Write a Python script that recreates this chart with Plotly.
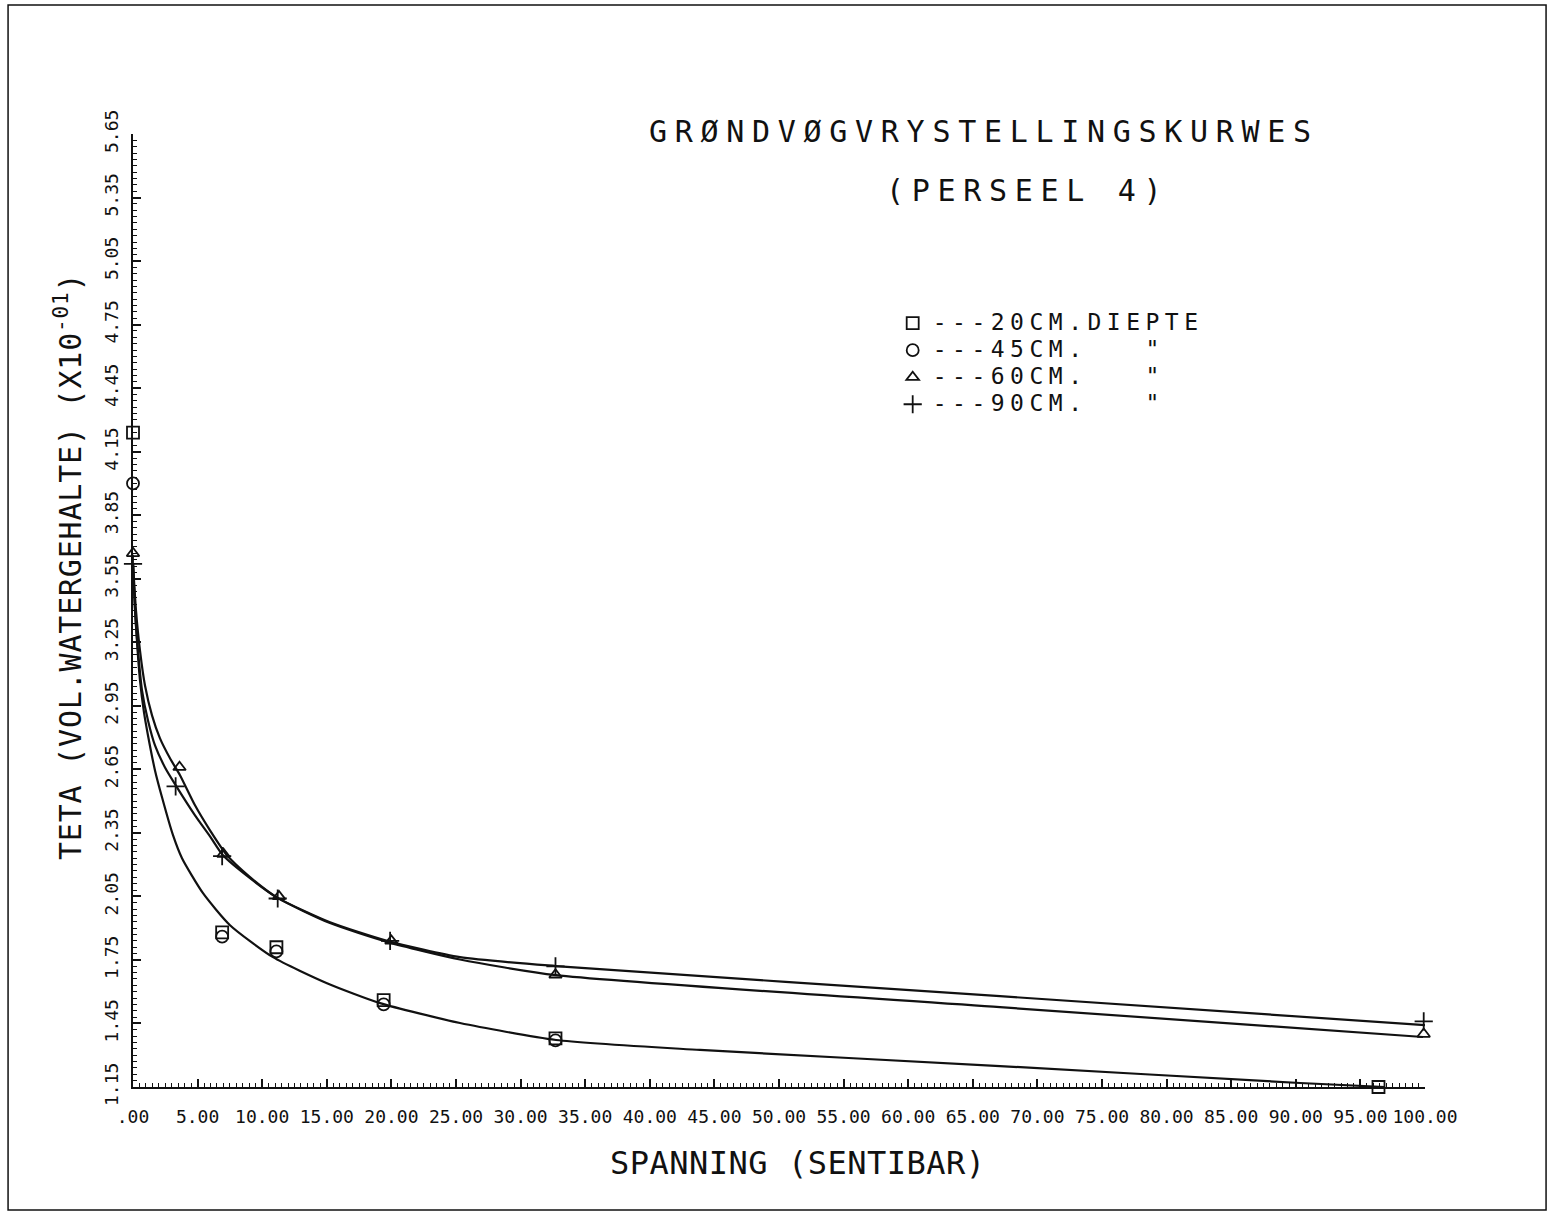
import plotly.graph_objects as go

# ---- measured points (spanning in sentibar, teta x10^-1) ----
x_20cm = [0.0, 6.9, 11.1, 19.4, 32.7, 96.4]
y_20cm = [4.24, 1.88, 1.81, 1.56, 1.38, 1.15]

x_45cm = [0.0, 6.9, 11.1, 19.4, 32.7, 96.4]
y_45cm = [4.00, 1.86, 1.79, 1.54, 1.37, 1.14]

x_60cm = [0.0, 3.6, 7.0, 11.3, 20.0, 32.7, 99.9]
y_60cm = [3.67, 2.66, 2.25, 2.05, 1.84, 1.68, 1.40]

x_90cm = [0.0, 3.3, 6.9, 11.2, 19.9, 32.7, 99.9]
y_90cm = [3.62, 2.57, 2.24, 2.04, 1.84, 1.72, 1.46]

# ---- fitted retention curves ----
fit_x_shallow = [0.0, 0.232, 0.542, 0.851, 1.161, 1.703, 2.245, 3.096, 3.793,
                 5.418, 7.508, 10.836, 15.015, 19.118, 25.31, 32.74, 43.885,
                 67.105, 90.325, 96.904]
fit_y_shallow = [3.622, 3.329, 3.070, 2.919, 2.810, 2.645, 2.518, 2.339, 2.230,
                 2.065, 1.914, 1.763, 1.640, 1.546, 1.452, 1.372, 1.325,
                 1.249, 1.169, 1.150]

fit_x_60 = [0.0, 0.232, 0.542, 0.929, 1.471, 2.090, 2.864, 3.638, 4.799, 5.960,
            7.276, 9.056, 11.223, 15.248, 19.737, 25.31, 32.74, 67.105, 99.845]
fit_y_60 = [3.622, 3.400, 3.211, 3.046, 2.905, 2.796, 2.702, 2.622, 2.480, 2.362,
            2.244, 2.141, 2.042, 1.924, 1.834, 1.752, 1.678, 1.527, 1.386]

fit_x_90 = [0.0, 0.155, 0.387, 0.697, 1.161, 1.703, 2.477, 3.406, 4.799, 5.960,
            6.966, 9.056, 11.223, 15.248, 19.737, 25.31, 32.74, 67.105, 100.0]
fit_y_90 = [3.622, 3.400, 3.211, 3.023, 2.881, 2.763, 2.659, 2.565, 2.433, 2.334,
            2.244, 2.136, 2.042, 1.928, 1.839, 1.763, 1.721, 1.579, 1.442]

# ---- axis ticks ----
x_tickvals = [i * 5 for i in range(21)]
x_ticktext = [".00"] + ["%.2f" % v for v in x_tickvals[1:]]
y_tickvals = [round(1.15 + 0.3 * i, 2) for i in range(16)]
y_ticktext = ["%.2f" % v for v in y_tickvals]

legend_names = [
    "---20CM.DIEPTE",
    "---45CM.\u00a0\u00a0\u00a0\"",
    "---60CM.\u00a0\u00a0\u00a0\"",
    "---90CM.\u00a0\u00a0\u00a0\"",
]

FONT = "DejaVu Sans Mono"
INK = "#111111"

def spaced(text, px, size=None):
    style = "letter-spacing:%spx" % px
    if size:
        style += ";font-size:%spx" % size
    return '<span style="%s">%s</span>' % (style, text)

fig = go.Figure()

for fx, fy in [(fit_x_shallow, fit_y_shallow), (fit_x_60, fit_y_60), (fit_x_90, fit_y_90)]:
    fig.add_trace(go.Scatter(
        x=fx, y=fy, mode="lines", showlegend=False, hoverinfo="skip",
        line=dict(color=INK, width=2.2, shape="spline", smoothing=0.6),
    ))

series = [
    (x_20cm, y_20cm, "square-open", 12),
    (x_45cm, y_45cm, "circle-open", 12),
    (x_60cm, y_60cm, "triangle-up-open", 11),
    (x_90cm, y_90cm, "cross-thin-open", 13),
]
for (sx, sy, sym, size), name in zip(series, legend_names):
    fig.add_trace(go.Scatter(
        x=sx, y=sy, mode="markers", name=spaced(name, 5.5, 23),
        cliponaxis=False,
        marker=dict(symbol=sym, size=size, color=INK, line=dict(color=INK, width=1.8)),
    ))

axis_common = dict(
    showline=True, linecolor=INK, linewidth=2, mirror=False,
    showgrid=False, zeroline=False,
    ticks="inside", ticklen=8, tickwidth=1.5, tickcolor=INK,
    tickfont=dict(family=FONT, size=18, color=INK),
)

fig.update_xaxes(
    range=[0, 100], tickmode="array", tickvals=x_tickvals, ticktext=x_ticktext,
    tickangle=0, ticklabelstandoff=12,
    minor=dict(tickmode="linear", tick0=0, dtick=0.5, ticks="inside",
               ticklen=4, tickwidth=1.2, tickcolor=INK),
    **axis_common,
)
fig.update_yaxes(
    range=[1.15, 5.65], tickmode="array", tickvals=y_tickvals, ticktext=y_ticktext,
    tickangle=-90, ticklabelstandoff=6,
    minor=dict(tickmode="linear", tick0=1.15, dtick=0.03, ticks="inside",
               ticklen=4, tickwidth=1.2, tickcolor=INK),
    **axis_common,
)

annotations = [
    dict(text=spaced("GRØNDVØGVRYSTELLINGSKURWES", 7.7), x=0.6587, y=1.0031,
         font=dict(family=FONT, size=30, color=INK)),
    dict(text=spaced("(PERSEEL 4)", 7.7), x=0.692, y=0.9412,
         font=dict(family=FONT, size=30, color=INK)),
    dict(text=spaced("SPANNING (SENTIBAR)", 0.5), x=0.5147, y=-0.0797,
         font=dict(family=FONT, size=32, color=INK)),
    dict(text=spaced("TETA (VOL.WATERGEHALTE) (X10<sup>-01</sup>)", 0.8),
         x=-0.0503, y=0.5456, textangle=-90,
         font=dict(family=FONT, size=30, color=INK)),
]
for a in annotations:
    a.update(xref="paper", yref="paper", xanchor="center", yanchor="middle",
             showarrow=False)

fig.update_layout(
    width=1552, height=1215,
    margin=dict(l=133, r=127, t=134, b=128),
    paper_bgcolor="white", plot_bgcolor="white",
    annotations=annotations,
    showlegend=True,
    legend=dict(
        x=0.588, y=0.821, xanchor="left", yanchor="top",
        bgcolor="rgba(0,0,0,0)", borderwidth=0,
        font=dict(family=FONT, size=18.5, color=INK),
        itemclick=False, itemdoubleclick=False,
    ),
    shapes=[dict(type="rect", xref="paper", yref="paper",
                 x0=-0.0967, x1=1.0937, y0=-0.129, y1=1.1354,
                 line=dict(color=INK, width=1.5))],
)

fig.write_html("out.html")
